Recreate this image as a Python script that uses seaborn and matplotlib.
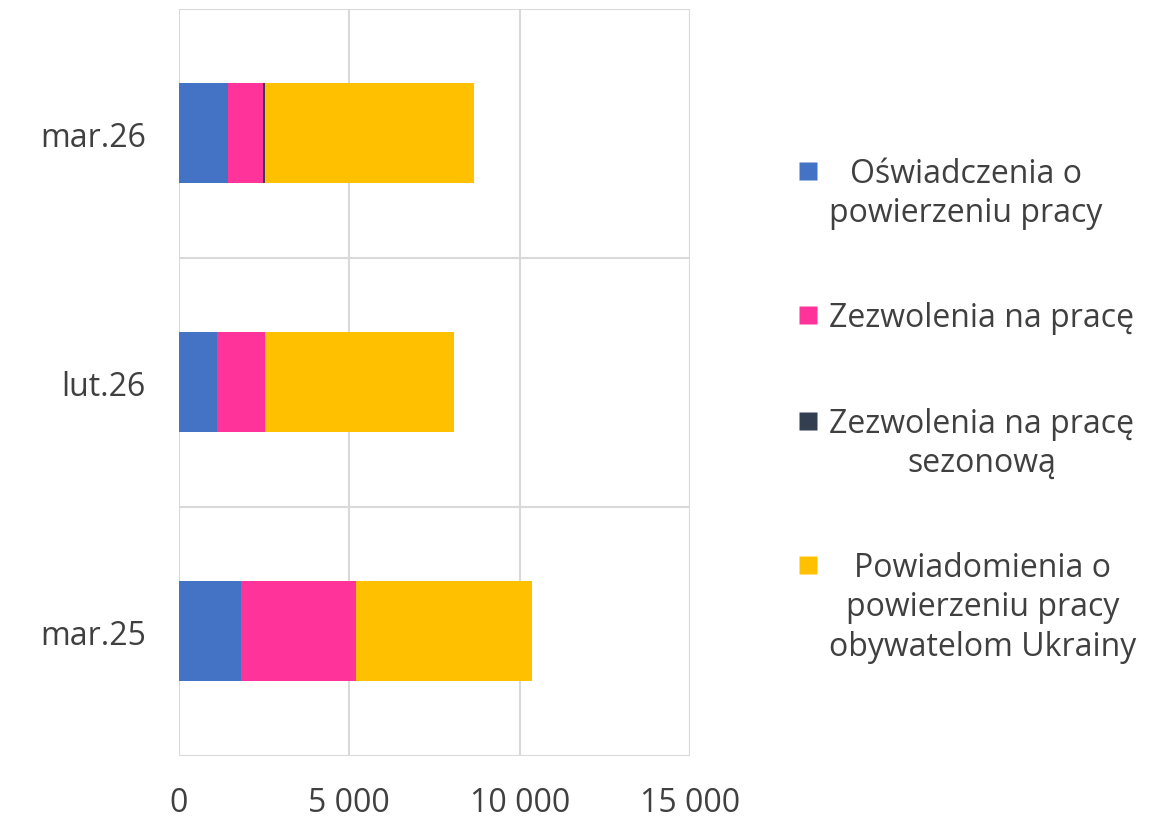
import pandas as pd
import numpy as np
import matplotlib.pyplot as plt
import seaborn as sns
from matplotlib.lines import Line2D
from matplotlib.ticker import FuncFormatter, FixedLocator

# Dane
categories = ['mar.26', 'lut.26', 'mar.25']
oswiadczenia = [1450, 1110, 1830]
zezwolenia = [1010, 1400, 3350]
sezonowe = [50, 0, 0]
powiadomienia = [6140, 5570, 5190]

series_names = ['Oświadczenia o\npowierzeniu pracy',
                'Zezwolenia na pracę',
                'Zezwolenia na pracę\nsezonową',
                'Powiadomienia o\npowierzeniu pracy\nobywatelom Ukrainy']
colors = ['#4472C4', '#FF3399', '#333F50', '#FFC000']
text_color = '#404040'
grid_color = '#D9D9D9'

sns.set_style('white')
plt.rcParams['font.family'] = ['Open Sans', 'DejaVu Sans']

df = pd.DataFrame({'kategoria': categories,
                   's0': oswiadczenia, 's1': zezwolenia,
                   's2': sezonowe, 's3': powiadomienia})
# skumulowane sumy do warstw
cols = ['s0', 's1', 's2', 's3']
cum = df[cols].cumsum(axis=1)
for c in cols:
    df['cum_' + c] = cum[c]

fig = plt.figure(figsize=(11.58, 8.2), dpi=100)
ax = fig.add_axes([0.1546, 0.0774, 0.4413, 0.911])

# rysujemy od najdłuższej warstwy do najkrótszej
for i in reversed(range(len(cols))):
    sns.barplot(data=df, x='cum_' + cols[i], y='kategoria', order=categories,
                color=colors[i], saturation=1, width=0.4, orient='h',
                linewidth=0, ax=ax)

ax.set_xlim(0, 15000)
ax.set_ylim(2.5, -0.5)
ax.set_xticks([0, 5000, 10000, 15000])
ax.xaxis.set_major_formatter(FuncFormatter(lambda v, p: f'{v:,.0f}'.replace(',', ' ')))
ax.yaxis.set_minor_locator(FixedLocator([-0.5, 0.5, 1.5, 2.5]))
ax.set_axisbelow(True)
ax.grid(axis='x', which='major', color=grid_color, linewidth=1.5)
ax.grid(axis='y', which='minor', color=grid_color, linewidth=1.5)
ax.grid(axis='y', which='major', visible=False)
for s in ax.spines.values():
    s.set_visible(False)
ax.tick_params(axis='both', which='both', length=0, labelsize=23, labelcolor=text_color)
ax.tick_params(axis='y', pad=24)
ax.tick_params(axis='x', pad=22)
ax.set_xlabel('')
ax.set_ylabel('')

handles = [Line2D([], [], linestyle='none', marker='s', markersize=12.5,
                  markerfacecolor=c, markeredgecolor='none') for c in colors]
leg = fig.legend(handles, series_names, loc='center left',
                 bbox_to_anchor=(0.665, 0.499), frameon=False,
                 fontsize=23, handlelength=0.6, handleheight=1.25,
                 handletextpad=0.35, labelspacing=2.25, labelcolor=text_color)
for t in leg.get_texts():
    t.set_multialignment('center')
    t.set_linespacing(1.25)
# znacznik przy pierwszej linii opisu
for col in leg._legend_handle_box.get_children():
    for item in col.get_children():
        item.align = 'top'

fig.savefig('out.png', dpi=100)
